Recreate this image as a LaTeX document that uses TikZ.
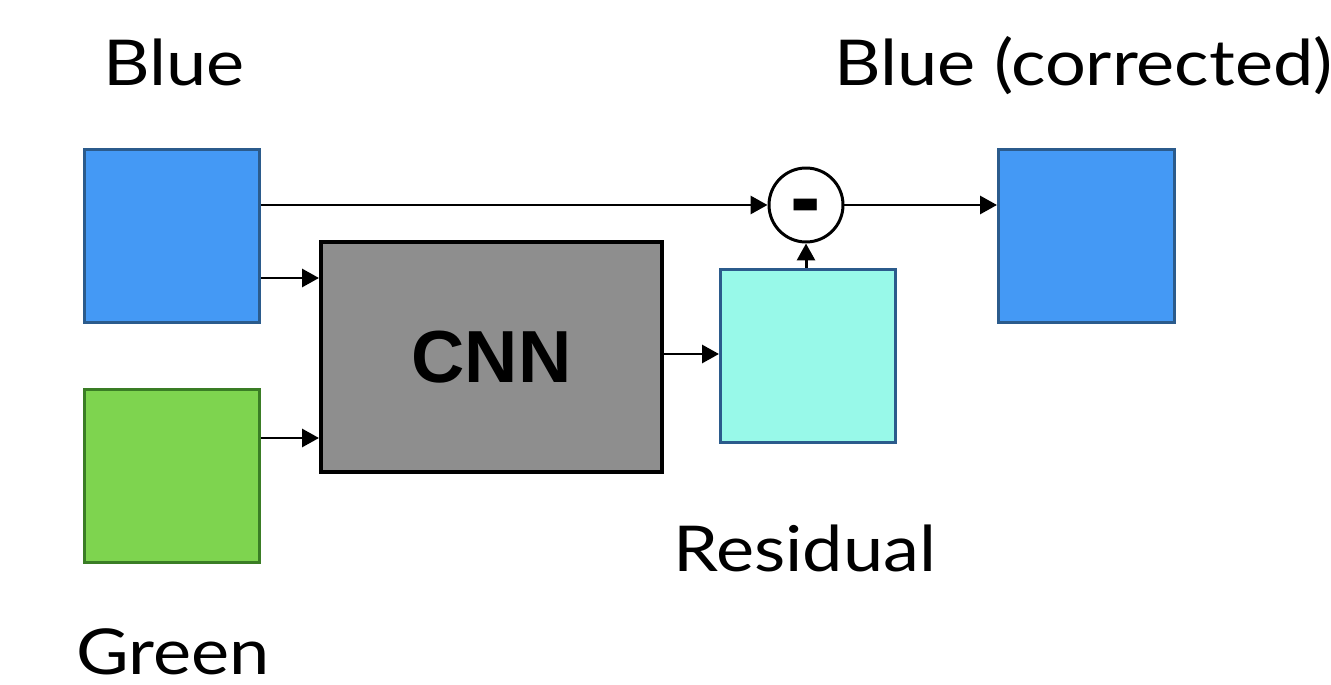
\documentclass[tikz,border=0pt]{standalone}
\usepackage{fontspec}
\setmainfont{Lato}[FakeStretch=1.14]
\newfontfamily\arialb{Liberation Sans}[BoldFont={Liberation Sans Bold}]
\usetikzlibrary{arrows.meta}
\definecolor{bluefill}{HTML}{4499F5}
\definecolor{blueedge}{HTML}{2B5B8C}
\definecolor{greenfill}{HTML}{7ED44F}
\definecolor{greenedge}{HTML}{3A7D25}
\definecolor{cyanfill}{HTML}{98F9E9}
\definecolor{cnnfill}{HTML}{8E8E8E}
\tikzset{
  px/.style={x=0.02cm,y=-0.02cm},
  img/.style={draw=#1, line width=1.8pt, minimum width=3.5cm, minimum height=3.46cm, inner sep=0pt, anchor=north west},
  conn/.style={line width=1.7pt, -{Triangle[length=0.34cm,width=0.36cm]}},
  lbl/.style={font=\fontsize{36}{40}\selectfont, anchor=base west, inner sep=0pt}
}
\begin{document}
\begin{tikzpicture}[px]
\useasboundingbox (0,0) rectangle (1331,685);
\node[img=blueedge, fill=bluefill] (blue) at (83,148) {};
\node[img=greenedge, fill=greenfill] (green) at (83,388) {};
\node[draw=black, line width=2.2pt, fill=cnnfill, minimum width=6.82cm, minimum height=4.6cm, anchor=north west, inner sep=0pt,
      font=\arialb\bfseries\fontsize{42}{46}\selectfont] (cnn) at (319,240) {CNN};
\node[img=blueedge, fill=cyanfill] (res) at (719,268) {};
\node[draw=black, line width=1.7pt, fill=white, circle, minimum size=1.48cm, inner sep=0pt] (minus) at (806,205) {};
\node[inner sep=0pt, yshift=-5.5pt, font=\arialb\bfseries\fontsize{40}{42}\selectfont] (msign) at (minus.center) {\scalebox{1.3}[1.4]{-}};
\node[img=blueedge, fill=bluefill, minimum width=3.52cm] (bluec) at (997,148) {};
\node[lbl] (tblue) at (103,86) {Blue};
\node[lbl] (tbluec) at (834,86) {Blue (corrected)};
\node[lbl] (tres) at (673,571) {Residual};
\node[lbl] (tgreen) at (76,674) {Green};
\draw[conn] (blue.east |- minus.west) -- (minus.west);
\draw[conn] (minus.east) -- (bluec.west |- minus.east);
\draw[conn] (blue.east |- 0,278) -- (cnn.west |- 0,278);
\draw[conn] (green.east |- 0,438) -- (cnn.west |- 0,438);
\draw[conn] (cnn.east |- 0,354) -- (res.west |- 0,354);
\draw[conn] (res.north -| minus.south) -- (minus.south);
\end{tikzpicture}
\end{document}
